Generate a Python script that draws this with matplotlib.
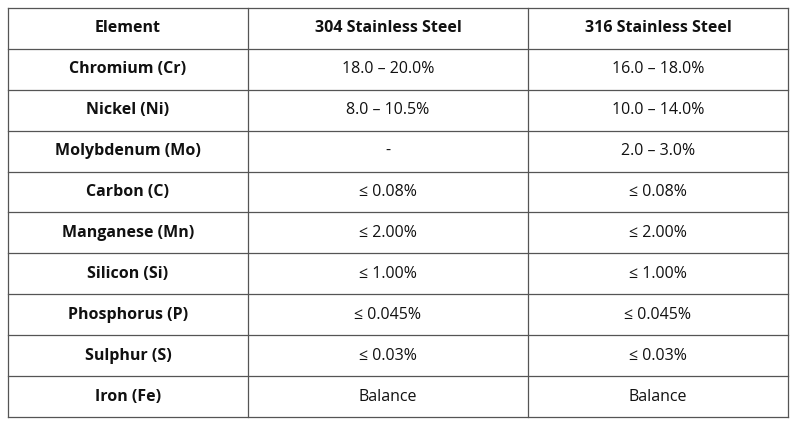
import matplotlib
matplotlib.use("Agg")
import matplotlib.pyplot as plt

plt.rcParams['font.family'] = ['Open Sans', 'DejaVu Sans']

headers = ["Element", "304 Stainless Steel", "316 Stainless Steel"]
elements = ["Chromium (Cr)", "Nickel (Ni)", "Molybdenum (Mo)", "Carbon (C)",
            "Manganese (Mn)", "Silicon (Si)", "Phosphorus (P)", "Sulphur (S)", "Iron (Fe)"]
steel_304 = ["18.0 – 20.0%", "8.0 – 10.5%", "-", "≤ 0.08%", "≤ 2.00%",
             "≤ 1.00%", "≤ 0.045%", "≤ 0.03%", "Balance"]
steel_316 = ["16.0 – 18.0%", "10.0 – 14.0%", "2.0 – 3.0%", "≤ 0.08%", "≤ 2.00%",
             "≤ 1.00%", "≤ 0.045%", "≤ 0.03%", "Balance"]

W, H = 796, 423
fig = plt.figure(figsize=(W / 100, H / 100), dpi=100)
ax = fig.add_axes([0, 0, 1, 1])
ax.set_xlim(0, W)
ax.set_ylim(H, 0)
ax.axis('off')

col_x = [8, 248, 528, 788]
top, bottom = 8, 417
n_rows = len(elements) + 1
row_h = (bottom - top) / n_rows
line_kw = dict(color='#555555', linewidth=0.9)

for x in col_x:
    ax.plot([x, x], [top, bottom], **line_kw)
for i in range(n_rows + 1):
    y = top + i * row_h
    ax.plot([col_x[0], col_x[-1]], [y, y], **line_kw)

rows = [headers] + [list(r) for r in zip(elements, steel_304, steel_316)]
for i, row in enumerate(rows):
    yc = top + (i + 0.5) * row_h
    for j, txt in enumerate(row):
        xc = (col_x[j] + col_x[j + 1]) / 2
        bold = (i == 0) or (j == 0)
        ax.text(xc, yc, txt, ha='center', va='center', fontsize=11.5,
                fontweight='bold' if bold else 'normal', color='#111111')

fig.savefig("out.png", dpi=100)
